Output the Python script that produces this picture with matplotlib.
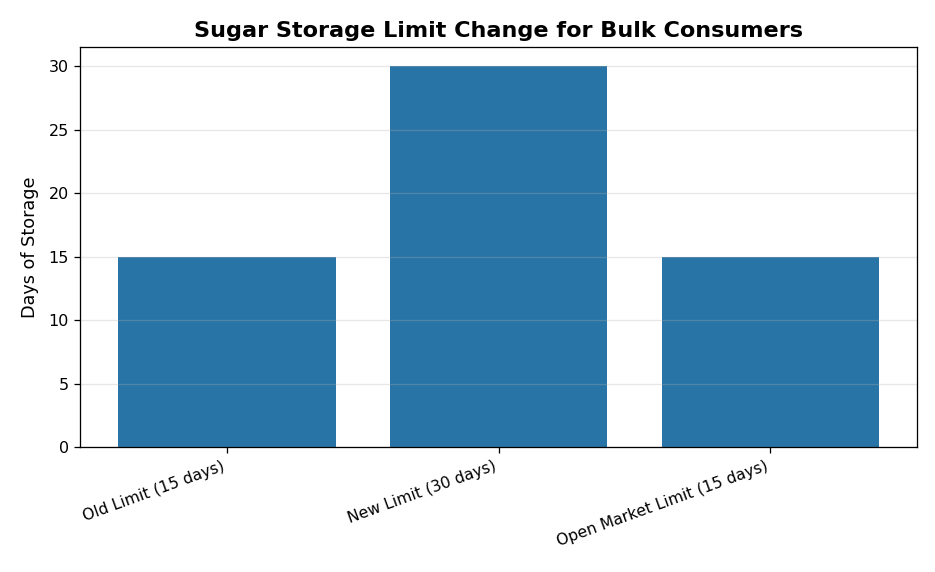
import matplotlib
matplotlib.use("Agg")
import matplotlib.pyplot as plt

categories = ["Old Limit (15 days)", "New Limit (30 days)", "Open Market Limit (15 days)"]
values = [15, 30, 15]

DPI = 115
fig, ax = plt.subplots(figsize=(936 / DPI, 572 / DPI), dpi=DPI)
ax.bar(categories, values, color="#2874a6", width=0.8)
ax.set_ylabel("Days of Storage", fontsize=11, labelpad=6)
ax.set_title("Sugar Storage Limit Change for Bulk Consumers", fontsize=14, fontweight="bold")
ax.grid(axis="y", alpha=0.3)
plt.setp(ax.get_xticklabels(), rotation=20, ha="right", fontsize=9.8)
fig.subplots_adjust(left=0.0855, right=0.98, top=0.918, bottom=0.218)
fig.savefig("out.png", dpi=DPI)
